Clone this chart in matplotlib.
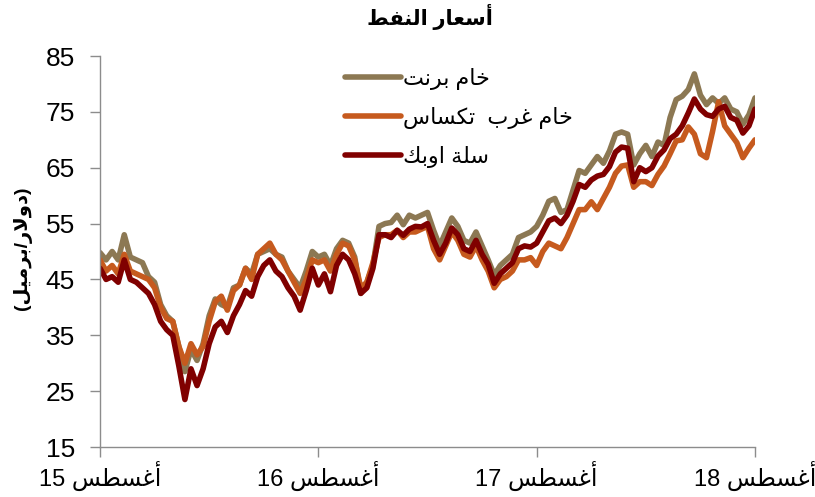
import numpy as np
import matplotlib
matplotlib.use("Agg")
import matplotlib.pyplot as plt

plt.rcParams['font.family'] = ['Liberation Sans', 'DejaVu Sans']

# Arabic presentation forms: (isolated, final, initial, medial)
FORMS = {
    'ا': ('\uFE8D', '\uFE8E'),
    'أ': ('\uFE83', '\uFE84'),
    'ب': ('\uFE8F', '\uFE90', '\uFE91', '\uFE92'),
    'ة': ('\uFE93', '\uFE94'),
    'ت': ('\uFE95', '\uFE96', '\uFE97', '\uFE98'),
    'خ': ('\uFEA5', '\uFEA6', '\uFEA7', '\uFEA8'),
    'د': ('\uFEA9', '\uFEAA'),
    'ر': ('\uFEAD', '\uFEAE'),
    'س': ('\uFEB1', '\uFEB2', '\uFEB3', '\uFEB4'),
    'ط': ('\uFEC1', '\uFEC2', '\uFEC3', '\uFEC4'),
    'ع': ('\uFEC9', '\uFECA', '\uFECB', '\uFECC'),
    'غ': ('\uFECD', '\uFECE', '\uFECF', '\uFED0'),
    'ف': ('\uFED1', '\uFED2', '\uFED3', '\uFED4'),
    'ك': ('\uFED9', '\uFEDA', '\uFEDB', '\uFEDC'),
    'ل': ('\uFEDD', '\uFEDE', '\uFEDF', '\uFEE0'),
    'م': ('\uFEE1', '\uFEE2', '\uFEE3', '\uFEE4'),
    'ن': ('\uFEE5', '\uFEE6', '\uFEE7', '\uFEE8'),
    'و': ('\uFEED', '\uFEEE'),
    'ي': ('\uFEF1', '\uFEF2', '\uFEF3', '\uFEF4'),
}


def ar(word):
    """shape arabic letters and put them in visual (left to right) order"""
    out = []
    i = 0
    while i < len(word):
        c = word[i]
        if c not in FORMS:
            out.append(c)
            i += 1
            continue
        prev = word[i - 1] if i > 0 else ''
        joins_prev = prev in FORMS and len(FORMS[prev]) == 4
        if c == 'ل' and i + 1 < len(word) and word[i + 1] == 'ا':
            out.append('\uFEFC' if joins_prev else '\uFEFB')
            i += 2
            continue
        nxt = word[i + 1] if i + 1 < len(word) else ''
        joins_next = len(FORMS[c]) == 4 and nxt in FORMS
        f = FORMS[c]
        if joins_prev and joins_next:
            g = f[3]
        elif joins_prev:
            g = f[1]
        elif joins_next:
            g = f[2]
        else:
            g = f[0]
        out.append(g)
        i += 1
    return ''.join(reversed(out))


title = "أسعار النفط"
ylabel = "دولار/برميل"
month_name = "أغسطس"
years = ["15", "16", "17", "18"]
series_names = ["خام برنت", "خام غرب  تكساس", "سلة اوبك"]

# months since Aug 2015, one reading every third of a month
months = np.linspace(0, 36, 109)

brent = [49.8, 48.5, 50.0, 48.5, 53.0, 49.0, 48.5, 48.0, 45.5, 44.5,
         40.5, 38.5, 37.5, 33.0, 28.5, 32.5, 30.5, 33.5, 38.5, 41.5,
         40.5, 40.0, 43.5, 44.0, 47.0, 46.0, 49.5, 50.0, 50.5, 49.5,
         49.0, 46.5, 45.0, 43.5, 46.5, 50.0, 49.0, 49.5, 47.5, 50.5,
         52.0, 51.5, 49.0, 42.5, 44.5, 47.5, 54.5, 55.0, 55.2, 56.5,
         54.8, 56.5, 56.0, 56.5, 57.0, 53.8, 51.0, 53.5, 56.0, 54.5,
         52.0, 51.5, 53.5, 51.0, 48.5, 45.8, 47.5, 48.5, 49.5, 52.5,
         53.0, 53.5, 54.5, 56.5, 59.0, 59.5, 57.0, 57.5, 61.0, 64.5,
         64.0, 65.5, 67.0, 65.8, 68.0, 71.0, 71.4, 71.0, 65.5, 67.5,
         69.0, 67.0, 69.6, 69.0, 74.0, 77.2, 77.8, 79.0, 81.8, 78.0,
         76.3, 77.5, 76.5, 77.5, 75.5, 75.0, 72.8, 74.5, 77.5]

wti = [48.5, 46.5, 47.5, 46.0, 49.5, 46.5, 46.0, 45.5, 45.0, 43.5,
       40.0, 38.0, 37.5, 33.0, 30.0, 33.5, 31.5, 33.0, 37.5, 41.0,
       42.0, 39.5, 43.0, 44.0, 47.0, 45.0, 49.5, 50.5, 51.5, 49.5,
       48.5, 46.5, 44.5, 42.5, 45.0, 48.5, 48.0, 48.5, 46.5, 49.5,
       51.5, 51.0, 48.5, 43.5, 44.5, 48.0, 52.5, 53.0, 53.0, 53.8,
       52.5, 53.5, 53.5, 54.0, 54.5, 50.5, 48.5, 51.0, 53.5, 52.0,
       49.5, 49.0, 51.0, 48.5, 46.5, 43.5, 45.0, 45.5, 46.5, 48.5,
       48.5, 48.9, 47.5, 50.0, 51.5, 51.0, 50.5, 52.5, 55.0, 57.5,
       57.5, 58.9, 57.5, 59.5, 61.5, 64.0, 65.3, 65.5, 61.5, 62.5,
       62.5, 61.8, 63.8, 65.3, 67.5, 69.8, 70.0, 72.3, 71.0, 67.5,
       66.8, 71.5, 76.8, 72.5, 71.0, 69.5, 66.8, 68.5, 70.0]

opec = [47.0, 45.0, 45.5, 44.5, 48.5, 45.0, 44.5, 43.5, 42.5, 40.5,
        37.5, 36.0, 35.0, 29.5, 23.5, 29.0, 26.0, 29.0, 33.5, 36.5,
        37.5, 35.5, 38.5, 40.5, 43.0, 42.0, 45.5, 47.5, 48.5, 46.5,
        45.5, 43.5, 42.0, 39.5, 43.0, 47.0, 44.0, 46.0, 42.8, 47.5,
        49.5, 48.5, 46.0, 42.5, 43.5, 47.0, 53.0, 53.0, 52.5, 53.8,
        52.9, 54.0, 54.5, 54.4, 55.0, 52.0, 49.5, 51.5, 54.2, 53.0,
        50.5, 50.0, 52.0, 49.5, 47.7, 44.3, 46.0, 47.0, 48.0, 50.5,
        51.0, 50.8, 51.5, 53.5, 55.5, 56.0, 55.0, 56.5, 59.0, 62.0,
        61.5, 62.8, 63.5, 63.8, 65.2, 67.8, 68.7, 68.5, 62.5, 65.0,
        64.3, 65.0, 67.1, 68.2, 70.2, 71.0, 72.5, 74.8, 77.3, 75.5,
        74.5, 74.2, 75.5, 76.0, 74.0, 73.5, 71.2, 72.5, 75.5]

colors = ["#8C7853", "#C65A1E", "#800000"]

fig = plt.figure(figsize=(8.15, 4.97), dpi=100)
ax = fig.add_axes([0.1227, 0.1006, 0.8037, 0.7867])

for vals, name, col in zip([brent, wti, opec], series_names, colors):
    ax.plot(months, vals, color=col, lw=4, label=ar(name), solid_capstyle="round")

ax.set_xlim(0, 36)
ax.set_ylim(15, 85)
ax.set_yticks(range(15, 86, 10))
ax.set_xticks([0, 12, 24, 36])
ax.set_xticklabels([y + " " + ar(month_name) for y in years])

for s in ["top", "right"]:
    ax.spines[s].set_visible(False)
for s in ["left", "bottom"]:
    ax.spines[s].set_color("#8c8c8c")
    ax.spines[s].set_linewidth(1.0)
ax.tick_params(axis="both", colors="#8c8c8c", labelcolor="black", length=7,
               width=1.0)
ax.tick_params(axis="x", pad=3, labelsize=17)
ax.tick_params(axis="y", pad=11, labelsize=19)

fig.text(0.527, 0.965, ar(title), ha="center", va="center", fontsize=15,
         fontweight="bold")
fig.text(0.028, 0.50, "(" + ar(ylabel) + ")", rotation=90, ha="center",
         va="center", fontsize=14, fontweight="bold")

ax.legend(loc="upper left", bbox_to_anchor=(0.41, 0.885), bbox_transform=fig.transFigure,
          frameon=False, fontsize=16, handlelength=2.5, labelspacing=0.75,
          handletextpad=0.1, borderpad=0)

fig.savefig("out.png", dpi=100)
